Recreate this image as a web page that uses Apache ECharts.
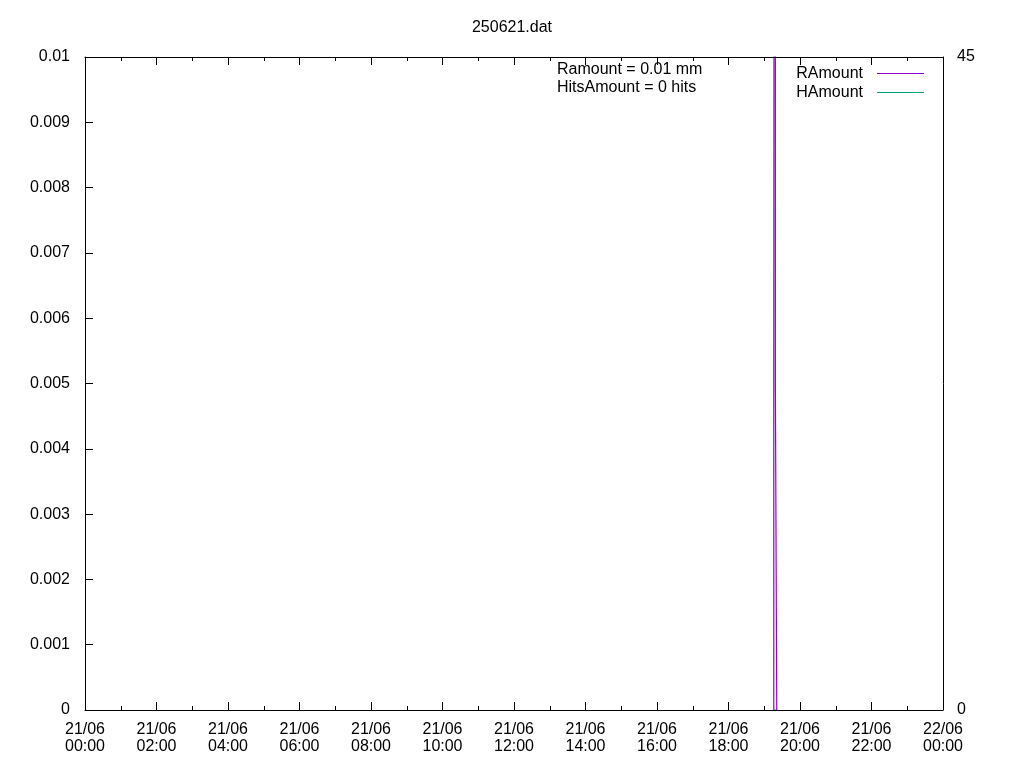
<!DOCTYPE html>
<html>
<head>
<meta charset="utf-8">
<script src="https://cdn.jsdelivr.net/npm/echarts@6/dist/echarts.min.js"></script>
<style>html,body{margin:0;padding:0;background:#fff}#c{width:1024px;height:768px}</style>
</head>
<body>
<div id="c"></div>
<script>
const titleText = '250621.dat';
const xStart = '2025-06-21T00:00:00';
const xEnd = '2025-06-22T00:00:00';
const rTimes = ['2025-06-21T19:16:00','2025-06-21T19:16:00','2025-06-21T19:18:40','2025-06-21T19:18:40','2025-06-21T19:18:40','2025-06-21T19:21:00','2025-06-21T19:21:00'];
const rAmount = [0, 0.005, 0.005, 0.05, 0.005, 0.005, 0];
const hTimes = ['2025-06-21T19:16:00','2025-06-21T19:21:00'];
const hAmount = [0, 0];
const infoLines = ['Ramount = 0.01 mm', 'HitsAmount = 0 hits'];
const seriesNames = ['RAmount', 'HAmount'];

const FONT = '"Liberation Sans", Arial, sans-serif';
const ts = s => new Date(s).getTime();
const HOUR = 3600 * 1000;
const chart = echarts.init(document.getElementById('c'), null, {renderer: 'canvas'});
const xCommon = {
  type: 'value', min: ts(xStart), max: ts(xEnd), interval: 2 * HOUR,
  axisLine: {show: true, onZero: false, lineStyle: {color: '#000', width: 1}},
  axisTick: {show: true, inside: true, length: 8, lineStyle: {color: '#000'}},
  minorTick: {show: true, splitNumber: 2, length: 4, lineStyle: {color: '#000'}},
  splitLine: {show: false}, minorSplitLine: {show: false}, z: 5
};
chart.setOption({
  animation: false,
  backgroundColor: '#fff',
  title: {text: titleText, left: 'center', top: 15, textStyle: {fontFamily: FONT, fontSize: 16, fontWeight: 'normal', color: '#000'}},
  grid: {left: 85, right: 81, top: 57, bottom: 58},
  legend: {
    data: seriesNames, orient: 'vertical', right: 95, top: 60.5, align: 'right',
    icon: 'rect', itemWidth: 47, itemHeight: 1, itemGap: 3,
    textStyle: {fontFamily: FONT, fontSize: 16, color: '#000', padding: [0, 9, 0, 0]}
  },
  graphic: infoLines.map((t, i) => ({
    type: 'text', left: 557, top: 62 + i * 18,
    style: {text: t, font: '16px ' + FONT, fill: '#000'}
  })),
  xAxis: [
    Object.assign({}, xCommon, {
      position: 'bottom',
      axisLabel: {
        fontFamily: FONT, fontSize: 16, color: '#000', margin: 11, lineHeight: 17,
        showMinLabel: true, showMaxLabel: true,
        formatter: function (v) {
          const d = new Date(v);
          const p = n => String(n).padStart(2, '0');
          return p(d.getDate()) + '/' + p(d.getMonth() + 1) + '\n' + p(d.getHours()) + ':' + p(d.getMinutes());
        }
      }
    }),
    Object.assign({}, xCommon, {position: 'top', axisLabel: {show: false}})
  ],
  yAxis: [
    {
      type: 'value', min: 0, max: 0.01, interval: 0.001, position: 'left',
      axisLine: {show: true, onZero: false, lineStyle: {color: '#000'}},
      axisTick: {show: true, inside: true, length: 8, lineStyle: {color: '#000'}},
      splitLine: {show: false},
      axisLabel: {fontFamily: FONT, fontSize: 16, color: '#000', margin: 15}
    },
    {
      type: 'value', min: 0, max: 45, interval: 45, position: 'right',
      axisLine: {show: true, onZero: false, lineStyle: {color: '#000'}},
      axisTick: {show: false}, splitLine: {show: false},
      axisLabel: {fontFamily: FONT, fontSize: 16, color: '#000', margin: 14}
    }
  ],
  series: [
    {
      name: seriesNames[0], type: 'line', xAxisIndex: 0, yAxisIndex: 0,
      data: rTimes.map((t, i) => [ts(t), rAmount[i]]),
      showSymbol: false, symbol: 'none', clip: true, z: 3,
      color: '#9400d3', lineStyle: {color: '#9400d3', width: 1.2}
    },
    {
      name: seriesNames[1], type: 'line', xAxisIndex: 0, yAxisIndex: 1,
      data: hTimes.map((t, i) => [ts(t), hAmount[i]]),
      showSymbol: false, symbol: 'none', clip: true, z: 1,
      color: '#009e73', lineStyle: {color: '#009e73', width: 1}
    }
  ]
});
</script>
</body>
</html>
